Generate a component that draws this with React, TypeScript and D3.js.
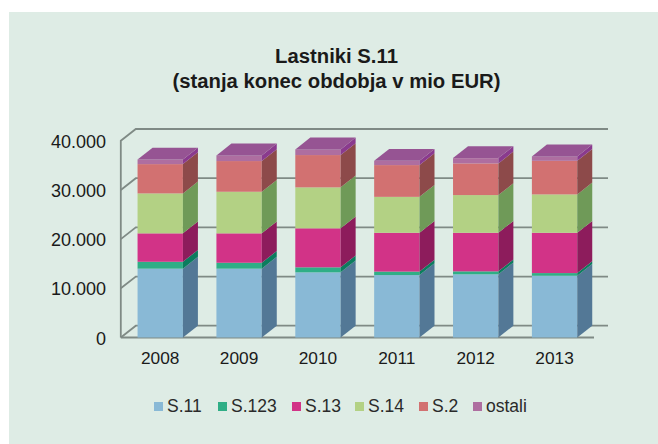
import React from "react";
import * as d3 from "d3";

const years = ["2008", "2009", "2010", "2011", "2012", "2013"];
const seriesNames = ["S.11", "S.123", "S.13", "S.14", "S.2", "ostali"];
const s11 = [14000, 14000, 13250, 12700, 12850, 12560];
const s123 = [1400, 1200, 1020, 700, 600, 540];
const s13 = [5780, 5980, 7930, 7900, 7850, 8200];
const s14 = [8120, 8460, 8330, 7300, 7660, 7800];
const s2 = [5960, 6240, 6570, 6460, 6440, 6830];
const ostali = [940, 1150, 1150, 870, 1080, 900];
const yTicks = [0, 10000, 20000, 30000, 40000];
const tickLabels = ["0", "10.000", "20.000", "30.000", "40.000"];
const frontColors = ["#89b9d6", "#2fae86", "#d23387", "#b3d184", "#d27171", "#ae6ea0"];
const sideColors = ["#537896", "#0c7c5e", "#8d1c5c", "#6f9a58", "#8d4a4a", "#8a3a8e"];
const topColor = "#965493";

const seriesValues = [s11, s123, s13, s14, s2, ostali];
const DX = 15;
const DY = -11.8;
const font = "'Liberation Sans', Arial, sans-serif";
const axisColor = "#7f8a85";

export default function App() {
  const y = d3.scaleLinear().domain([0, 40000]).range([337.5, 140.8]);
  const x = d3.scaleBand().domain(years).range([120.8, 594]).paddingInner(0.425).paddingOuter(0.2125);
  const rows = years.map((yr, i) => ({ yr, ...Object.fromEntries(seriesNames.map((n, k) => [n, seriesValues[k][i]])) }));
  const stacked = d3.stack<any>().keys(seriesNames)(rows);
  const legendX = [154, 218, 292, 355, 419, 473];
  const line = d3.line();
  return (
    <svg width={658} height={444} style={{ position: "absolute", left: 0, top: 0, background: "#fff" }} fontFamily={font}>
      <rect x={9} y={12} width={649} height={432} fill="#deece5" />
      <text x={336.5} y={63} textAnchor="middle" fontSize={20.3} fontWeight="bold" fill="#1a1a1a">Lastniki S.11</text>
      <text x={336.5} y={88} textAnchor="middle" fontSize={20.3} fontWeight="bold" fill="#1a1a1a">(stanja konec obdobja v mio EUR)</text>
      <g stroke={axisColor} strokeWidth={1.8} fill="none">
        <path d={line([[120.8, 337.5], [120.8, 140.8], [120.8 + DX, 140.8 + DY], [608, 140.8 + DY]]) || ""} />
        {yTicks.slice(0, 4).map((t) => (
          <path key={t} d={line([[120.8, y(t)], [120.8 + DX, y(t) + DY], [608, y(t) + DY]]) || ""} />
        ))}
        <path d={line([[120.8, 337.5], [594, 337.5]]) || ""} strokeWidth={2} />
      </g>
      {yTicks.map((t, i) => (
        <text key={t} x={106} y={y(t) + 7} textAnchor="end" fontSize={18} fill="#1a1a1a">{tickLabels[i]}</text>
      ))}
      {years.map((yr, i) => {
        const x0 = x(yr)!;
        const w = x.bandwidth();
        return (
          <g key={yr}>
            {stacked.map((s, k) => {
              const yb = y(s[i][0]);
              const yt = y(s[i][1]);
              return (
                <g key={k}>
                  <rect x={x0} y={yt} width={w} height={yb - yt} fill={frontColors[k]} />
                  <path d={line([[x0 + w, yb], [x0 + w + DX, yb + DY], [x0 + w + DX, yt + DY], [x0 + w, yt]]) + "Z"} fill={sideColors[k]} />
                </g>
              );
            })}
            <path
              d={line([[x0, y(stacked[5][i][1])], [x0 + DX, y(stacked[5][i][1]) + DY], [x0 + w + DX, y(stacked[5][i][1]) + DY], [x0 + w, y(stacked[5][i][1])]]) + "Z"}
              fill={topColor}
            />
            <text x={x0 + w / 2} y={364} textAnchor="middle" fontSize={17.3} fill="#1a1a1a">{yr}</text>
          </g>
        );
      })}
      {seriesNames.map((n, k) => (
        <g key={n}>
          <rect x={legendX[k]} y={402} width={9} height={9} fill={frontColors[k]} />
          <text x={legendX[k] + 13} y={412} fontSize={17.5} fill="#2a2a2a">{n}</text>
        </g>
      ))}
    </svg>
  );
}
